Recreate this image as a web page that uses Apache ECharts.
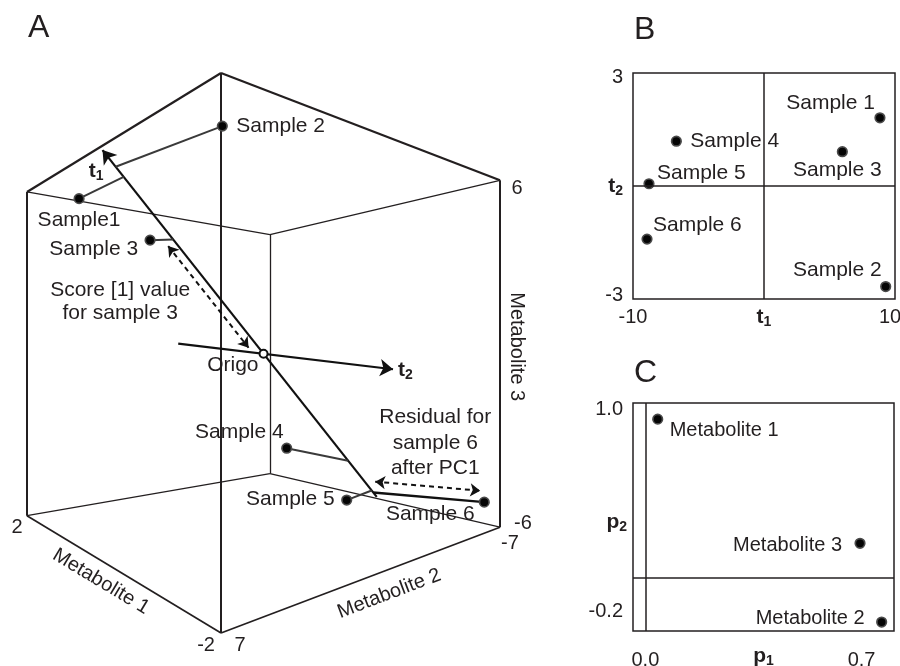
<!DOCTYPE html>
<html>
<head>
<meta charset="utf-8">
<script src="https://cdn.jsdelivr.net/npm/echarts@6/dist/echarts.min.js"></script>
<style>
  html, body { margin: 0; padding: 0; background: #ffffff; }
  #chart { width: 900px; height: 666px; }
</style>
</head>
<body>
<div id="chart"></div>
<script>
// ---------------- data ----------------
const sampleNames = ['Sample 1', 'Sample 2', 'Sample 3', 'Sample 4', 'Sample 5', 'Sample 6'];
const cubeSampleNames = ['Sample1', 'Sample 2', 'Sample 3', 'Sample 4', 'Sample 5', 'Sample 6'];

// metabolite levels of each sample
const metabolite1 = [1.32, -1.63, 0.64, 0.43, -0.38, -1.92];
const metabolite2 = [5.68, 5.99, 3.70, -3.20, -4.21, -6.28];
const metabolite3 = [5.53, 5.41, 3.96, -3.82, -5.60, -5.08];

// metabolite cube ranges: [value at the front corner, value at the far end]
const metabolite1Range = [-2, 2];
const metabolite2Range = [7, -7];
const metabolite3Range = [-6, 6];

// model centre and component axes (metabolite units per score unit)
const origo = [-0.15, 0, 0];
const pc1Direction = [0.031, 0.657, 0.616];
const pc1Extent = [-9.25, 10];
const pc2Direction = [-0.944, 0.262, -0.206];
const pc2Extent = [-2.23, 2.08];

// scores
const scoreT1 = [8.85, 9.29, 5.98, -6.69, -8.78, -8.93];
const scoreT2 = [1.81, -2.67, 0.91, 1.19, 0.06, -1.41];

// loadings
const metaboliteNames = ['Metabolite 1', 'Metabolite 2', 'Metabolite 3'];
const loadingP1 = [0.04, 0.765, 0.695];
const loadingP2 = [0.944, -0.262, 0.206];

// tick labels
const scoreT1Ticks = [-10, 10];
const scoreT2Ticks = [-3, 3];
const loadingP1Ticks = [0.0, 0.7];
const loadingP2Ticks = [-0.2, 1.0];

// ---------------- perspective view of the metabolite cube ----------------
const INK = '#231f20';
const FONT = '"Liberation Sans", Arial, Helvetica, sans-serif';
const camera = {
  cx: 357.5, horizon: 355, focal: 596.5,
  nearDepth: 10, nearX: -2.288,
  floor: -4.66, ceiling: 4.728,
  lengthM1: 10.32, lengthM2: 8.69
};
const DIAG = Math.SQRT1_2;

function frac(value, range) {
  return (value - range[0]) / (range[1] - range[0]);
}
function project(p) {
  const a = camera.lengthM1 * frac(p[0], metabolite1Range);
  const b = camera.lengthM2 * frac(p[1], metabolite2Range);
  const w = frac(p[2], metabolite3Range);
  const xc = camera.nearX + DIAG * (b - a);
  const zc = camera.nearDepth + DIAG * (a + b);
  const yc = camera.floor + w * (camera.ceiling - camera.floor);
  return [camera.cx + camera.focal * xc / zc, camera.horizon - camera.focal * yc / zc];
}
function along(base, dir, s) {
  return [base[0] + dir[0] * s, base[1] + dir[1] * s, base[2] + dir[2] * s];
}
function corner(i, j, k) {
  return [metabolite1Range[i], metabolite2Range[j], metabolite3Range[k]];
}
// shift a projected segment sideways and trim its ends (for annotation arrows)
function offsetSegment(p, q, shift, trimStart, trimEnd) {
  const dx = q[0] - p[0], dy = q[1] - p[1], len = Math.hypot(dx, dy);
  const ux = dx / len, uy = dy / len, nx = -uy, ny = ux;
  return [
    [p[0] + ux * trimStart + nx * shift, p[1] + uy * trimStart + ny * shift],
    [q[0] - ux * trimEnd + nx * shift, q[1] - uy * trimEnd + ny * shift]
  ];
}

const samples3d = sampleNames.map((_, i) => [metabolite1[i], metabolite2[i], metabolite3[i]]);
const feet3d = scoreT1.map(s => along(origo, pc1Direction, s));
const samplesView = samples3d.map(project);
const feetView = feet3d.map(project);
const origoView = project(origo);

// cube edges: [from corner, to corner, width]
const cubeEdges = [
  [[0, 0, 0], [0, 0, 1], 2.0], [[1, 0, 0], [1, 0, 1], 2.0], [[0, 1, 0], [0, 1, 1], 2.0], [[1, 1, 0], [1, 1, 1], 1.3],
  [[0, 0, 1], [1, 0, 1], 2.2], [[0, 0, 1], [0, 1, 1], 2.2], [[1, 0, 1], [1, 1, 1], 1.3], [[0, 1, 1], [1, 1, 1], 1.3],
  [[0, 0, 0], [1, 0, 0], 1.7], [[0, 0, 0], [0, 1, 0], 1.7], [[1, 0, 0], [1, 1, 0], 1.3], [[0, 1, 0], [1, 1, 0], 1.3]
].map(([a, b, w]) => ({
  coords: [project(corner(...a)), project(corner(...b))],
  lineStyle: { width: w }
}));

const pcAxes = [
  { coords: [project(along(origo, pc1Direction, pc1Extent[0])), project(along(origo, pc1Direction, pc1Extent[1]))] },
  { coords: [project(along(origo, pc2Direction, pc2Extent[0])), project(along(origo, pc2Direction, pc2Extent[1]))] }
];

const residualLinks = samplesView.map((p, i) => ({
  coords: [p, feetView[i]],
  lineStyle: { width: i === 5 ? 2.4 : 2, color: i === 5 ? '#111' : '#3a3a3a' }
}));

const noteArrows = [
  { coords: offsetSegment(feetView[2], origoView, 8, 2, 14) },
  { coords: offsetSegment(feetView[5], samplesView[5], -11, 1, 5) }
];

// label placement of the cube samples: [align, dx, dy]
const cubeLabelPlace = [
  ['center', 0, 22], ['left', 14, 0], ['right', -12, 9],
  ['right', -3, -16], ['right', -12, -1], ['center', -54, 12]
];

const textStyle = { color: INK, fontFamily: FONT, fontSize: 20, opacity: 1 };
const sampleTextStyle = Object.assign({}, textStyle, { fontSize: 21 });
const subRich = {
  t: { fontSize: 21, fontWeight: 'bold', color: INK, fontFamily: FONT },
  s: { fontSize: 14, fontWeight: 'bold', color: INK, fontFamily: FONT, padding: [10, 0, 0, 0] }
};

// a free text anchored at a point of the cube; the offset is given on screen
// and turned into the label's own (rotated) frame
function note(point, text, align, sx, sy, extra) {
  const rot = (extra && extra.rotate ? extra.rotate : 0) * Math.PI / 180;
  const c = Math.cos(rot), s = Math.sin(rot);
  const dx = sx * c - sy * s;
  const dy = sx * s + sy * c;
  return {
    value: project(point),
    label: Object.assign({ formatter: text, align: align, offset: [dx, dy] }, extra || {})
  };
}

const cubeNotes = [
  // tick values
  note(corner(1, 0, 0), String(metabolite1Range[1]), 'center', -10, 12),
  note(corner(0, 0, 0), String(metabolite1Range[0]), 'center', -15, 13),
  note(corner(0, 0, 0), String(metabolite2Range[0]), 'center', 19, 13),
  note(corner(0, 1, 0), String(metabolite2Range[1]), 'center', 10, 16),
  note(corner(0, 1, 1), String(metabolite3Range[1]), 'center', 17, 8),
  note(corner(0, 1, 0), String(metabolite3Range[0]), 'center', 23, -4),
  // axis titles
  note([0, metabolite2Range[0], metabolite3Range[0]], 'Metabolite 1', 'center', 3, 23, { rotate: -31 }),
  note([metabolite1Range[0], 0, metabolite3Range[0]], 'Metabolite 2', 'center', -4, 26, { rotate: 20.8 }),
  note([metabolite1Range[0], metabolite2Range[1], 0], 'Metabolite 3', 'center', 17, -7, { rotate: -90 }),
  // component names
  note(along(origo, pc1Direction, pc1Extent[1]), '{t|t}{s|1}', 'right', 1, 21),
  note(along(origo, pc2Direction, pc2Extent[1]), '{t|t}{s|2}', 'left', 5, 1),
  // explanations
  note(feet3d[2], 'Score [1] value\nfor sample 3', 'center', -53, 62, { lineHeight: 23, fontSize: 21 }),
  note(samples3d[5], 'Residual for\nsample 6\nafter PC1', 'center', -49, -59, { lineHeight: 25.5, fontSize: 21 })
];

const markerStyle = { color: '#050505', borderColor: '#4a4a4a', borderWidth: 1.7, opacity: 1 };

const zeroLines = {
  silent: true,
  symbol: ['none', 'none'],
  label: { show: false },
  lineStyle: { color: INK, width: 1.5, type: 'solid', opacity: 1 },
  data: [{ xAxis: 0 }, { yAxis: 0 }]
};

// label placement in the score plot: [align, dx, dy]
const scoreLabelPlace = [
  ['right', -5, -15], ['right', -4, -16], ['center', -5, 18],
  ['left', 14, 0], ['left', 8, -11], ['left', 6, -14]
];
// label placement in the loading plot
const loadingLabelPlace = [['left', 12, 11], ['right', -17, -4], ['right', -18, 2]];

const chart = echarts.init(document.getElementById('chart'), null, { renderer: 'canvas' });

// end labels of the score box sit slightly inside the frame
const edgeRich = {
  lo: { padding: [0, 0, 8, 0], fontSize: 20, color: INK, fontFamily: FONT },
  hi: { padding: [8, 0, 0, 0], fontSize: 20, color: INK, fontFamily: FONT },
  right: { padding: [0, 10, 0, 0], fontSize: 20, color: INK, fontFamily: FONT }
};

function boxAxisLabel(values, margin, fmt, rich) {
  return {
    customValues: values, margin: margin, color: INK, fontFamily: FONT, fontSize: 20,
    formatter: fmt || (v => String(v)), rich: rich
  };
}

const frameGrid = { show: true, borderColor: INK, borderWidth: 1.5, backgroundColor: 'transparent', containLabel: false, outerBoundsMode: 'none' };

chart.setOption({
  animation: false,
  backgroundColor: '#ffffff',
  textStyle: { fontFamily: FONT },
  graphic: [
    { type: 'text', x: 28, y: 12, style: { text: 'A', fontSize: 32, fill: INK, fontFamily: FONT } },
    { type: 'text', x: 634, y: 14, style: { text: 'B', fontSize: 32, fill: INK, fontFamily: FONT } },
    { type: 'text', x: 634, y: 357, style: { text: 'C', fontSize: 32, fill: INK, fontFamily: FONT } }
  ],
  grid: [
    { left: 0, top: 0, width: 900, height: 666, show: false, containLabel: false, outerBoundsMode: 'none' },
    Object.assign({ left: 633, top: 73, width: 262, height: 226 }, frameGrid),
    Object.assign({ left: 633, top: 403, width: 261, height: 228 }, frameGrid)
  ],
  xAxis: [
    { gridIndex: 0, type: 'value', min: 0, max: 900, show: false },
    {
      gridIndex: 1, type: 'value', min: -10, max: 10, interval: 10,
      axisLine: { show: false }, axisTick: { show: false }, splitLine: { show: false },
      axisLabel: boxAxisLabel(scoreT1Ticks, 8, v => (v > 0 ? '{right|' + v + '}' : String(v)), edgeRich),
      name: '{t|t}{s|1}', nameLocation: 'middle', nameGap: 6, nameMoveOverlap: false,
      nameTextStyle: { rich: subRich }
    },
    {
      gridIndex: 2, type: 'value', min: -0.04, max: 0.805,
      axisLine: { show: false }, axisTick: { show: false }, splitLine: { show: false },
      axisLabel: boxAxisLabel(loadingP1Ticks, 19, v => v.toFixed(1)),
      name: '{t|p}{s|1}', nameLocation: 'middle', nameGap: 13, nameMoveOverlap: false,
      nameTextStyle: { rich: subRich }
    }
  ],
  yAxis: [
    { gridIndex: 0, type: 'value', min: 0, max: 666, inverse: true, show: false },
    {
      gridIndex: 1, type: 'value', min: -3, max: 3, interval: 3,
      axisLine: { show: false }, axisTick: { show: false }, splitLine: { show: false },
      axisLabel: boxAxisLabel(scoreT2Ticks, 10, v => (v > 0 ? '{hi|' + v + '}' : '{lo|' + v + '}'), edgeRich),
      name: '{t|t}{s|2}', nameLocation: 'middle', nameGap: 10, nameRotate: 0, nameMoveOverlap: false,
      nameTextStyle: { rich: subRich }
    },
    {
      gridIndex: 2, type: 'value', min: -0.315, max: 1.04,
      axisLine: { show: false }, axisTick: { show: false }, splitLine: { show: false },
      axisLabel: boxAxisLabel(loadingP2Ticks, 10, v => v.toFixed(1)),
      name: '{t|p}{s|2}', nameLocation: 'middle', nameGap: 6, nameRotate: 0, nameMoveOverlap: false,
      nameTextStyle: { rich: subRich, padding: [10, 0, 0, 0] }
    }
  ],
  series: [
    {
      name: 'cube', type: 'lines', coordinateSystem: 'cartesian2d', xAxisIndex: 0, yAxisIndex: 0,
      silent: true, symbol: ['none', 'none'],
      lineStyle: { color: INK, width: 1.3, opacity: 1, curveness: 0 },
      data: cubeEdges
    },
    {
      name: 'component axes', type: 'lines', coordinateSystem: 'cartesian2d', xAxisIndex: 0, yAxisIndex: 0,
      silent: true, symbol: ['none', 'arrow'], symbolSize: 13,
      lineStyle: { color: '#111', width: 2.2, opacity: 1 },
      data: pcAxes
    },
    {
      name: 'projections', type: 'lines', coordinateSystem: 'cartesian2d', xAxisIndex: 0, yAxisIndex: 0,
      silent: true, symbol: ['none', 'none'],
      lineStyle: { color: '#3a3a3a', width: 2, opacity: 1 },
      data: residualLinks
    },
    {
      name: 'notes arrows', type: 'lines', coordinateSystem: 'cartesian2d', xAxisIndex: 0, yAxisIndex: 0,
      silent: true, symbol: ['arrow', 'arrow'], symbolSize: 10,
      lineStyle: { color: '#111', width: 2, type: [5, 4], opacity: 1 },
      data: noteArrows
    },
    {
      name: 'cube samples', type: 'scatter', xAxisIndex: 0, yAxisIndex: 0, silent: true,
      symbolSize: 9.5, itemStyle: markerStyle,
      label: Object.assign({ show: true, position: 'inside' }, sampleTextStyle),
      data: samplesView.map((p, i) => ({
        value: p,
        label: { formatter: cubeSampleNames[i], align: cubeLabelPlace[i][0], offset: [cubeLabelPlace[i][1], cubeLabelPlace[i][2]] }
      })),
      z: 5
    },
    {
      name: 'origo', type: 'scatter', xAxisIndex: 0, yAxisIndex: 0, silent: true,
      symbolSize: 8, itemStyle: { color: '#ffffff', borderColor: '#111', borderWidth: 2, opacity: 1 },
      label: Object.assign({ show: true, position: 'inside', formatter: 'Origo', align: 'right', offset: [-5, 11] }, sampleTextStyle),
      data: [origoView],
      z: 5
    },
    {
      name: 'cube notes', type: 'scatter', xAxisIndex: 0, yAxisIndex: 0, silent: true,
      symbolSize: 0, itemStyle: { color: 'transparent', opacity: 1 },
      label: Object.assign({ show: true, position: 'inside', rich: subRich }, textStyle),
      data: cubeNotes,
      z: 6
    },
    {
      name: 'scores', type: 'scatter', xAxisIndex: 1, yAxisIndex: 1, silent: true,
      symbolSize: 9.5, itemStyle: markerStyle,
      label: Object.assign({ show: true, position: 'inside' }, sampleTextStyle),
      data: sampleNames.map((n, i) => ({
        value: [scoreT1[i], scoreT2[i]],
        label: { formatter: n, align: scoreLabelPlace[i][0], offset: [scoreLabelPlace[i][1], scoreLabelPlace[i][2]] }
      })),
      markLine: zeroLines
    },
    {
      name: 'loadings', type: 'scatter', xAxisIndex: 2, yAxisIndex: 2, silent: true,
      symbolSize: 9.5, itemStyle: markerStyle,
      label: Object.assign({ show: true, position: 'inside' }, textStyle),
      data: metaboliteNames.map((n, i) => ({
        value: [loadingP1[i], loadingP2[i]],
        label: { formatter: n, align: loadingLabelPlace[i][0], offset: [loadingLabelPlace[i][1], loadingLabelPlace[i][2]] }
      })),
      markLine: zeroLines
    }
  ]
});
</script>
</body>
</html>
